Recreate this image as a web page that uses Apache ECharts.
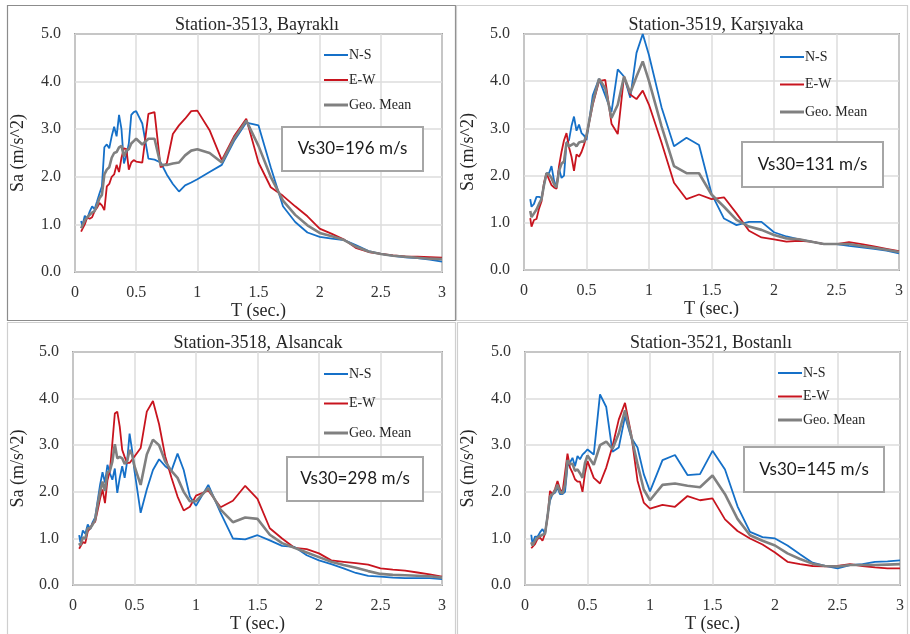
<!DOCTYPE html>
<html>
<head>
<meta charset="utf-8">
<script src="https://cdn.jsdelivr.net/npm/echarts@6.0.0/dist/echarts.min.js"></script>
<style>
  html, body { margin: 0; padding: 0; background: #fff; }
  #chart { width: 910px; height: 634px; }
</style>
</head>
<body>
<div id="chart"></div>
<script>
// periods (sec.) shared by all stations
const periods = [0.05,0.06,0.08,0.10,0.12,0.14,0.16,0.18,0.20,0.22,0.24,0.26,0.28,0.30,0.32,0.34,0.36,0.38,0.40,0.42,0.44,0.46,0.48,0.50,
  0.55,0.60,0.65,0.70,0.75,0.80,0.85,0.90,0.95,1.0,
  1.1,1.2,1.3,1.4,1.5,1.6,1.7,1.8,1.9,2.0,
  2.1,2.2,2.3,2.4,2.5,2.6,2.7,2.8,2.9,3.0];

// Station-3513, Bayraklı
const ns3513 = [1.07,0.97,1.18,1.12,1.27,1.38,1.32,1.48,1.65,1.80,2.62,2.68,2.60,2.85,3.05,2.85,3.30,3.00,2.28,2.45,2.70,3.30,3.36,3.38,
  3.12,2.38,2.36,2.30,2.05,1.85,1.69,1.82,1.88,1.95,
  2.10,2.25,2.75,3.14,3.08,2.20,1.38,1.05,0.83,0.74,
  0.70,0.67,0.56,0.44,0.38,0.34,0.31,0.29,0.26,0.22];
const ew3513 = [0.85,0.90,1.00,1.15,1.12,1.15,1.28,1.35,1.45,1.40,1.30,1.80,1.85,2.00,2.05,2.25,2.10,2.40,2.60,2.58,2.15,2.30,2.35,2.32,
  2.30,3.32,3.36,2.20,2.28,2.90,3.08,3.22,3.38,3.39,
  2.98,2.35,2.85,3.22,2.30,1.78,1.60,1.38,1.17,0.91,
  0.80,0.68,0.50,0.42,0.38,0.35,0.33,0.32,0.31,0.30];
const gm3513 = [0.92,0.95,1.08,1.15,1.20,1.25,1.28,1.40,1.55,1.62,2.05,2.15,2.20,2.40,2.50,2.52,2.62,2.65,2.43,2.55,2.58,2.70,2.75,2.80,
  2.68,2.80,2.80,2.25,2.25,2.28,2.30,2.45,2.55,2.58,
  2.50,2.30,2.80,3.18,2.65,2.00,1.50,1.20,0.98,0.82,
  0.75,0.67,0.53,0.43,0.38,0.34,0.32,0.30,0.28,0.27];

// Station-3519, Karşıyaka
const ns3519 = [1.50,1.34,1.40,1.55,1.55,1.52,1.80,2.05,2.05,2.20,1.90,1.75,2.15,1.95,2.00,2.70,2.75,3.05,3.25,2.95,3.08,2.90,2.85,2.75,
  3.70,4.05,3.70,3.35,4.25,4.10,3.65,4.60,5.00,4.55,
  3.45,2.62,2.80,2.65,1.62,1.09,0.95,1.02,1.02,0.80,
  0.71,0.65,0.60,0.55,0.55,0.51,0.48,0.45,0.41,0.35];
const ew3519 = [1.10,0.92,1.06,1.08,1.30,1.45,1.85,2.05,1.92,1.80,1.75,1.72,2.20,2.50,2.75,2.90,2.60,2.40,2.10,2.45,2.40,2.50,2.65,2.85,
  3.50,4.00,4.03,3.10,2.88,4.10,3.72,3.62,3.80,3.50,
  2.70,1.85,1.50,1.60,1.50,1.54,1.20,0.83,0.69,0.65,
  0.60,0.62,0.60,0.55,0.55,0.59,0.55,0.50,0.45,0.40];
const gm3519 = [1.25,1.12,1.20,1.28,1.40,1.50,1.80,2.05,2.02,1.95,1.82,1.75,2.10,2.25,2.30,2.70,2.62,2.65,2.68,2.62,2.70,2.72,2.72,2.85,
  3.55,4.05,3.85,3.22,3.50,4.10,3.75,4.10,4.42,4.00,
  3.05,2.20,2.05,2.05,1.60,1.34,1.06,0.92,0.85,0.74,
  0.67,0.65,0.60,0.55,0.55,0.55,0.51,0.47,0.43,0.38];

// Station-3518, Alsancak
const ns3518 = [1.07,0.92,1.17,1.10,1.30,1.20,1.35,1.45,1.80,2.15,2.42,2.20,2.58,2.40,2.26,2.50,1.98,2.30,2.55,2.30,2.65,3.25,2.90,2.45,
  1.55,2.05,2.47,2.70,2.55,2.45,2.82,2.47,1.90,1.70,
  2.15,1.55,1.00,0.98,1.07,0.96,0.84,0.82,0.64,0.53,
  0.45,0.36,0.26,0.20,0.18,0.16,0.15,0.15,0.15,0.13];
const ew3518 = [0.78,0.82,0.92,0.90,1.15,1.22,1.32,1.36,1.60,1.85,2.05,1.76,2.25,2.45,3.05,3.68,3.72,3.40,2.90,2.75,2.62,2.62,2.69,2.76,
  2.94,3.72,3.95,3.45,2.76,2.31,1.90,1.60,1.68,1.92,
  2.03,1.67,1.81,2.13,1.85,1.22,1.00,0.80,0.77,0.68,
  0.53,0.50,0.47,0.44,0.36,0.33,0.31,0.27,0.23,0.18];
const gm3518 = [0.90,0.85,1.02,1.00,1.22,1.22,1.30,1.40,1.72,2.00,2.22,2.02,2.42,2.45,2.65,3.02,2.72,2.75,2.72,2.60,2.65,2.90,2.80,2.55,
  2.15,2.80,3.12,3.00,2.65,2.45,2.30,2.00,1.80,1.80,
  2.08,1.62,1.35,1.45,1.42,1.08,0.90,0.80,0.70,0.60,
  0.50,0.43,0.37,0.30,0.24,0.22,0.21,0.20,0.19,0.16];

// Station-3521, Bostanlı
const ns3521 = [1.08,0.88,1.04,1.04,1.13,1.20,1.10,1.49,1.81,1.95,1.98,2.09,1.95,1.95,2.00,2.55,2.63,2.73,2.55,2.77,2.70,2.80,2.85,2.91,
  2.80,4.09,3.82,2.86,2.95,3.62,3.16,2.95,2.38,2.01,
  2.68,2.79,2.36,2.38,2.88,2.48,1.69,1.14,1.03,1.00,
  0.85,0.66,0.48,0.41,0.36,0.43,0.45,0.50,0.51,0.53];
const ew3521 = [0.79,0.81,0.88,0.99,1.02,0.95,1.10,1.45,2.02,1.95,2.06,2.23,2.06,1.99,2.40,2.82,2.52,2.41,2.27,2.22,2.22,2.00,2.40,2.66,
  2.30,2.18,2.52,2.98,3.55,3.91,3.23,2.24,1.77,1.64,
  1.72,1.68,1.91,1.82,1.86,1.41,1.16,1.00,0.87,0.70,
  0.50,0.45,0.41,0.40,0.41,0.45,0.41,0.38,0.36,0.36];
const gm3521 = [0.92,0.85,0.95,1.02,1.05,1.08,1.10,1.47,1.90,1.95,2.02,2.15,2.00,1.97,2.15,2.68,2.60,2.60,2.45,2.48,2.40,2.30,2.62,2.78,
  2.58,3.00,3.08,2.92,3.25,3.75,3.20,2.60,2.05,1.82,
  2.15,2.18,2.13,2.10,2.35,1.95,1.42,1.07,0.95,0.85,
  0.68,0.56,0.46,0.41,0.40,0.43,0.43,0.43,0.44,0.45];

const stationTitles = ['Station-3513, Bayraklı', 'Station-3519, Karşıyaka', 'Station-3518, Alsancak', 'Station-3521, Bostanlı'];
const vs30Labels = ['Vs30=196 m/s', 'Vs30=131 m/s', 'Vs30=298 m/s', 'Vs30=145 m/s'];
const seriesNames = ['N-S', 'E-W', 'Geo. Mean'];
const stationData = [
  [ns3513, ew3513, gm3513],
  [ns3519, ew3519, gm3519],
  [ns3518, ew3518, gm3518],
  [ns3521, ew3521, gm3521]
];

// layout of the four panels (pixels)
const panels = [
  { grid: [75, 34, 367, 238], titleX: 252, legend: [319, 43, 11], box: [282, 127, 141, 44], nameGap: 48, frame: [7, 5, 448, 315], frameColor: '#8c8c8c' },
  { grid: [524, 34, 375, 236], titleX: 711, legend: [775, 45, 13.5], box: [742, 142, 141, 45], nameGap: 47, frame: [456, 5, 451, 315], frameColor: '#cfcfcf' },
  { grid: [73, 352, 369, 234], titleX: 253, legend: [319, 362, 15.5], box: [287, 457, 136, 44], nameGap: 46, frame: [7, 322, 448, 315], frameColor: '#cfcfcf' },
  { grid: [525, 352, 375, 234], titleX: 706, legend: [773, 361, 9.5], box: [744, 447, 140, 45], nameGap: 48, frame: [457, 322, 450, 315], frameColor: '#cfcfcf' }
];

const colors = ['#1570c8', '#c8141e', '#808080'];
// plain line legend marks (thin for components, thicker for the mean)
const legendIcons = [
  'path://M0,0M0,6L24,6L24,8L0,8ZM24,14',
  'path://M0,0M0,6L24,6L24,8L0,8ZM24,14',
  'path://M0,0M0,5.5L24,5.5L24,8.5L0,8.5ZM24,14'
];
const serif = 'Liberation Serif';

const chart = echarts.init(document.getElementById('chart'));

const option = {
  animation: false,
  backgroundColor: '#fff',
  title: [],
  legend: [],
  grid: [],
  xAxis: [],
  yAxis: [],
  series: [],
  graphic: []
};

panels.forEach((p, k) => {
  // panel frame
  option.graphic.push({
    type: 'rect', z: -10, silent: true,
    shape: { x: p.frame[0] + 0.5, y: p.frame[1] + 0.5, width: p.frame[2], height: p.frame[3] },
    style: { fill: 'none', stroke: p.frameColor, lineWidth: 1.2 }
  });
  option.title.push({
    text: stationTitles[k],
    left: p.titleX, top: p.grid[1] - 23, textAlign: 'center',
    textStyle: { fontFamily: serif, fontSize: 18, fontWeight: 'normal', color: '#262626' }
  });
  option.legend.push({
    orient: 'vertical',
    left: p.legend[0], top: p.legend[1], itemGap: p.legend[2],
    itemWidth: 24, itemHeight: 14,
    textStyle: { fontFamily: serif, fontSize: 14, color: '#262626', lineHeight: 14, padding: [0, 0, 0, -4] },
    data: seriesNames.map((n, s) => ({ name: n, icon: legendIcons[s] }))
  });
  option.grid.push({
    left: p.grid[0], top: p.grid[1], width: p.grid[2], height: p.grid[3],
    show: true, borderColor: '#595959', borderWidth: 1.5, backgroundColor: '#fff'
  });
  option.xAxis.push({
    type: 'value', gridIndex: k, min: 0, max: 3, interval: 0.5,
    name: 'T (sec.)', nameLocation: 'middle', nameGap: 27,
    nameTextStyle: { fontFamily: serif, fontSize: 18, color: '#262626' },
    axisLine: { show: false }, axisTick: { show: false },
    axisLabel: { fontFamily: serif, fontSize: 16, color: '#333', margin: 13 },
    splitLine: { show: true, lineStyle: { color: '#dcdcdc', width: 1.5 } }
  });
  option.yAxis.push({
    type: 'value', gridIndex: k, min: 0, max: 5, interval: 1,
    name: 'Sa (m/s^2)', nameLocation: 'middle', nameGap: p.nameGap, nameRotate: 90,
    nameTextStyle: { fontFamily: serif, fontSize: 18, color: '#262626' },
    axisLine: { show: false }, axisTick: { show: false },
    axisLabel: { fontFamily: serif, fontSize: 16, color: '#333', margin: 14, formatter: v => v.toFixed(1) },
    splitLine: { show: true, lineStyle: { color: '#dcdcdc', width: 1.5 } }
  });
  stationData[k].forEach((vals, s) => {
    option.series.push({
      name: seriesNames[s],
      type: 'line',
      xAxisIndex: k, yAxisIndex: k,
      symbol: 'none',
      color: colors[s],
      lineStyle: { width: s === 2 ? 2.6 : 1.8, color: colors[s] },
      data: periods.map((t, i) => [t, vals[i]])
    });
  });
  // Vs30 annotation box
  const b = p.box;
  option.graphic.push({
    type: 'rect', z: 50,
    shape: { x: b[0], y: b[1], width: b[2], height: b[3] },
    style: { fill: '#fff', stroke: '#a6a6a6', lineWidth: 2 }
  });
  option.graphic.push({
    type: 'text', z: 51,
    x: b[0] + b[2] / 2, y: b[1] + b[3] / 2,
    style: { text: vs30Labels[k], font: '17px Lato', fill: '#1a1a1a', align: 'center', verticalAlign: 'middle' }
  });
});

chart.setOption(option);
</script>
</body>
</html>
